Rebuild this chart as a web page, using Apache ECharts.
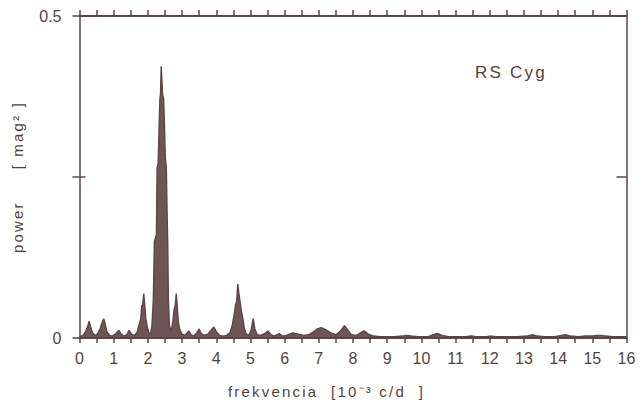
<!DOCTYPE html>
<html><head><meta charset="utf-8">
<script src="https://cdn.jsdelivr.net/npm/echarts@6/dist/echarts.min.js"></script>
<style>
html,body{margin:0;padding:0;background:#fff}
#c{width:643px;height:409px}
#c text[style*="Arimo"]{letter-spacing:2.2px}
</style></head><body><div id="c"></div>
<script>
// frequency in 10^-3 c/d, power in mag^2
const freq = [
  0.00,0.10,0.18,0.25,0.28,0.32,0.38,0.45,0.52,0.60,0.66,0.71,0.75,0.80,0.88,0.95,
  1.05,1.15,1.22,1.30,1.38,1.45,1.52,1.60,1.68,1.74,1.79,1.82,1.85,1.88,1.91,1.94,1.98,
  2.03,2.08,2.12,2.16,2.19,2.22,2.25,2.27,2.30,2.33,2.35,2.37,2.39,2.41,2.43,2.46,2.48,
  2.51,2.54,2.56,2.58,2.60,2.63,2.68,2.73,2.77,2.80,2.83,2.86,2.89,2.94,
  3.00,3.08,3.15,3.20,3.26,3.35,3.43,3.50,3.56,3.65,3.75,3.85,3.93,
  4.00,4.10,4.20,4.30,4.40,4.47,4.52,4.56,4.60,4.63,4.66,4.70,4.74,4.78,4.82,4.88,4.95,
  5.02,5.08,5.13,5.20,5.30,5.42,5.51,5.60,5.70,5.84,5.95,
  6.05,6.24,6.40,6.55,6.70,6.85,6.95,7.07,7.20,7.35,7.50,7.62,7.75,7.85,7.95,
  8.10,8.22,8.32,8.45,8.60,8.80,9.00,9.20,9.45,9.56,9.70,9.90,
  10.20,10.35,10.47,10.60,10.80,11.10,11.30,11.46,11.60,11.90,12.00,12.20,12.50,12.80,
  13.10,13.25,13.40,13.60,13.90,14.10,14.22,14.35,14.60,14.80,15.00,15.15,15.27,15.40,15.60,15.80,16.00
];
const power = [
  0.002,0.004,0.010,0.020,0.026,0.018,0.008,0.004,0.006,0.014,0.024,0.030,0.022,0.010,0.004,0.003,
  0.006,0.012,0.006,0.003,0.005,0.012,0.006,0.004,0.008,0.020,0.030,0.050,0.052,0.069,0.050,0.030,0.018,
  0.008,0.006,0.020,0.060,0.150,0.155,0.160,0.265,0.270,0.330,0.370,0.380,0.422,0.400,0.378,0.372,0.340,
  0.280,0.265,0.200,0.150,0.060,0.020,0.010,0.025,0.045,0.050,0.069,0.048,0.025,0.012,
  0.006,0.004,0.008,0.011,0.005,0.003,0.008,0.014,0.007,0.004,0.006,0.012,0.017,
  0.010,0.004,0.003,0.004,0.008,0.020,0.035,0.050,0.058,0.084,0.070,0.055,0.040,0.030,0.015,0.006,0.004,
  0.012,0.030,0.014,0.005,0.004,0.007,0.011,0.005,0.003,0.007,0.003,
  0.004,0.008,0.006,0.004,0.005,0.010,0.014,0.016,0.013,0.008,0.005,0.010,0.019,0.012,0.005,
  0.004,0.008,0.011,0.006,0.003,0.002,0.002,0.002,0.003,0.004,0.003,0.002,
  0.002,0.005,0.007,0.004,0.002,0.002,0.002,0.003,0.002,0.002,0.003,0.002,0.002,0.002,
  0.003,0.005,0.003,0.002,0.002,0.004,0.005,0.003,0.002,0.003,0.003,0.004,0.004,0.003,0.002,0.002,0.002
];
const xTickLabels = ['0','1','2','3','4','5','6','7','8','9','10','11','12','13','14','15','16'];
const yTickValues = [0, 0.25, 0.5];
const yTickLabels = ['0', '', '0.5'];
const seriesLabel = 'RS Cyg';
const xName = 'frekvencia\u00a0\u00a0[10\u207b\u00b3 c/d\u00a0\u00a0]';
const yName = 'power\u00a0\u00a0\u00a0\u00a0\u00a0[ mag\u00b2 ]';

const ink = '#5e4444';
const txt = '#543f3f';
const font = '"Liberation Sans", Arial, sans-serif';
const spaced = 'Arimo, "Liberation Sans", Arial, sans-serif';

const chart = echarts.init(document.getElementById('c'), null, {renderer: 'svg'});
const gridBox = {left: 79.5, right: 16.5, top: 16, bottom: 71, containLabel: false};
chart.setOption({
  backgroundColor: '#ffffff',
  animation: false,
  grid: [Object.assign({}, gridBox), Object.assign({}, gridBox)],
  xAxis: [
    {type: 'value', gridIndex: 0, position: 'bottom', min: 0, max: 16, interval: 0.5,
     axisLine: {show: true, onZero: false, lineStyle: {color: ink, width: 2}},
     axisTick: {show: true, inside: false, length: 5, lineStyle: {color: ink, width: 1.5}},
     axisLabel: {show: true, margin: 12, fontSize: 16, fontFamily: font, color: txt,
       formatter: v => (Number.isInteger(v) ? xTickLabels[v] : '')},
     splitLine: {show: false}},
    {type: 'value', gridIndex: 0, position: 'top', min: 0, max: 16, interval: 0.5,
     axisLine: {show: true, onZero: false, lineStyle: {color: ink, width: 2}},
     axisTick: {show: true, inside: false, length: 6, lineStyle: {color: ink, width: 1.5}},
     axisLabel: {show: false}, splitLine: {show: false}},
    {type: 'value', gridIndex: 1, min: 0, max: 16, show: false}
  ],
  yAxis: [
    {type: 'value', gridIndex: 0, position: 'left', min: 0, max: 0.5, interval: 0.25,
     axisLine: {show: true, onZero: false, lineStyle: {color: ink, width: 1.5}},
     axisTick: {show: true, inside: false, length: 7, lineStyle: {color: ink, width: 1.5}},
     axisLabel: {show: true, margin: 18, fontSize: 16, fontFamily: font, color: txt,
       formatter: v => { const i = yTickValues.indexOf(v); return i >= 0 ? yTickLabels[i] : ''; }},
     splitLine: {show: false}},
    {type: 'value', gridIndex: 0, position: 'right', min: 0, max: 0.5, interval: 0.25,
     axisLine: {show: true, onZero: false, lineStyle: {color: ink, width: 1.5}},
     axisTick: {show: true, inside: true, length: 10, lineStyle: {color: ink, width: 1.5}},
     axisLabel: {show: false}, splitLine: {show: false}},
    {type: 'value', gridIndex: 1, position: 'left', min: 0, max: 0.5, interval: 0.25,
     axisLine: {show: false, onZero: false},
     axisTick: {show: true, inside: true, length: 6, lineStyle: {color: ink, width: 1.5}},
     axisLabel: {show: false}, splitLine: {show: false}}
  ],
  series: [{
    name: seriesLabel, type: 'line', xAxisIndex: 0, yAxisIndex: 0,
    data: freq.map((f, i) => [f, power[i]]),
    showSymbol: false, symbol: 'none', smooth: false,
    lineStyle: {color: ink, width: 1.4},
    areaStyle: {color: ink, opacity: 0.9},
    z: 3
  }],
  graphic: [
    {type: 'text', x: 511, y: 72, style: {text: seriesLabel, fontSize: 17, fontFamily: spaced,
      fill: txt, align: 'center', verticalAlign: 'middle'}},
    {type: 'text', x: 228, y: 391, style: {text: xName, fontSize: 15, fontFamily: spaced,
      fill: txt, align: 'left', verticalAlign: 'middle'}},
    {type: 'text', x: 17, y: 177, rotation: Math.PI / 2, style: {text: yName, fontSize: 15,
      fontFamily: spaced, fill: txt, align: 'center', verticalAlign: 'middle'}}
  ]
});
</script></body></html>
